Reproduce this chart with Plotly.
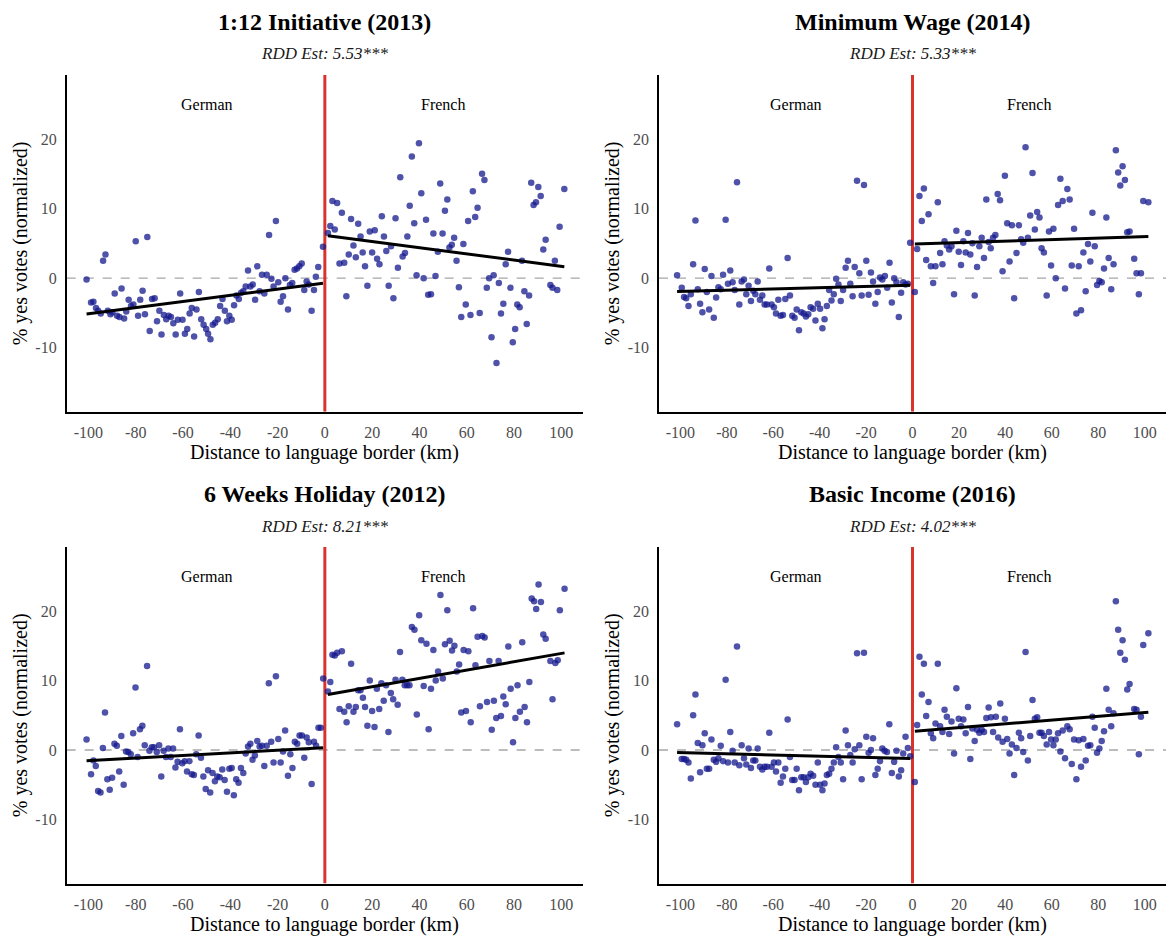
import numpy as np
import plotly.graph_objects as go

# ---------------- data ----------------
TITLES = ["1:12 Initiative (2013)", "Minimum Wage (2014)", "6 Weeks Holiday (2012)", "Basic Income (2016)"]
RDD_EST = ["5.53***", "5.33***", "8.21***", "4.02***"]
SIDE_LABELS = ["German", "French"]
X_TICKS = [-100, -80, -60, -40, -20, 0, 20, 40, 60, 80, 100]
Y_TICKS = [-10, 0, 10, 20]

DE1_X = [-100.8, -98.9, -97.9, -96.8, -95.9, -94.8, -93.8, -92.8, -91.8, -90.7,
         -89.9, -88.9, -87.9, -86.9, -86.0, -84.9, -84.0, -83.0, -82.0, -81.0,
         -80.0, -79.0, -78.1, -77.1, -76.1, -75.1, -74.1, -73.1, -72.0, -71.0,
         -70.0, -69.1, -68.1, -67.1, -66.1, -65.1, -64.1, -63.1, -62.2, -61.2,
         -60.2, -59.2, -58.2, -57.2, -56.3, -55.3, -54.3, -53.3, -52.3, -51.3,
         -50.2, -49.4, -48.4, -47.4, -46.4, -45.3, -44.3, -43.3, -42.3, -41.4,
         -40.4, -39.4, -38.4, -37.4, -36.4, -35.4, -34.5, -33.5, -32.5, -31.5,
         -30.5, -29.5, -28.6, -27.6, -26.6, -25.6, -24.6, -23.6, -22.6, -21.7,
         -20.7, -19.7, -18.7, -17.7, -16.7, -15.6, -14.8, -13.8, -12.8, -11.8,
         -10.8, -9.8, -8.7, -7.7, -6.8, -5.6, -4.6, -3.8, -2.8, -0.8]
DE1_Y = [-0.2, -3.5, -3.4, -4.3, -4.7, -5.1, 2.5, 3.4, -4.7, -5.2,
         -4.9, -2.2, -5.4, -5.6, -1.5, -5.8, -4.8, -3.1, -4.0, -3.8,
         5.3, -5.4, -3.1, -1.8, -5.2, 5.9, -7.6, -3.0, -2.9, -6.2,
         -4.7, -8.1, -5.3, -5.9, -5.4, -5.6, -6.5, -8.1, -6.0, -2.2,
         -6.0, -8.0, -7.3, -5.1, -4.3, -8.4, -4.5, -2.0, -5.9, -6.7,
         -7.3, -8.0, -8.8, -6.7, -6.4, -5.9, -4.0, -3.0, -4.7, -6.2,
         -5.4, -6.0, -3.9, -2.5, -3.0, -2.1, -1.9, -1.2, 1.1, -1.2,
         -0.9, -3.1, 1.7, -1.9, 0.5, -2.2, 0.5, 6.2, -0.1, -1.2,
         8.2, -0.6, -3.4, -2.6, 0.0, -4.5, -1.0, -0.7, 1.2, 1.4,
         1.7, 2.1, -1.7, -0.5, -0.9, -4.7, -1.7, 0.2, 1.6, 4.5]
FR1_X = [1.3, 2.3, 3.2, 4.2, 5.2, 6.2, 7.2, 8.2, 9.1, 10.1,
         11.1, 12.1, 13.1, 14.1, 15.1, 16.0, 17.0, 18.0, 19.0, 20.0,
         21.1, 22.1, 23.1, 24.1, 25.0, 26.0, 27.0, 28.0, 29.0, 29.9,
         30.9, 31.9, 32.9, 33.9, 34.9, 35.9, 36.8, 37.8, 38.8, 39.8,
         40.8, 41.8, 42.8, 43.7, 44.9, 45.9, 46.8, 47.8, 48.8, 49.8,
         50.8, 51.8, 52.7, 53.7, 54.7, 55.7, 56.7, 57.7, 58.6, 59.6,
         60.6, 61.6, 62.6, 63.6, 64.6, 65.5, 66.5, 67.5, 68.5, 69.5,
         70.5, 71.4, 72.6, 73.6, 74.5, 75.5, 76.5, 77.5, 78.5, 79.5,
         80.5, 81.4, 82.4, 83.4, 84.4, 85.4, 86.4, 87.3, 88.3, 89.3,
         90.3, 91.3, 92.4, 93.4, 95.4, 96.3, 97.3, 98.3, 99.3, 101.3]
FR1_Y = [6.5, 7.5, 11.1, 7.0, 10.8, 2.1, 9.4, 2.2, -2.6, 3.4,
         8.5, 4.7, 3.0, 7.8, 6.0, 3.7, 1.7, -1.1, 6.7, 3.7,
         6.9, 2.8, 2.0, 8.9, 6.0, 3.9, -1.1, 4.6, -2.9, 8.6,
         1.5, 14.5, 3.1, 3.6, 6.0, 10.4, 17.5, 7.9, 0.4, 19.4,
         12.2, 0.0, 8.4, -2.4, -2.3, 6.4, 0.3, 3.8, 13.6, 6.4,
         9.7, 11.3, 4.4, 4.8, 5.8, 2.5, -1.3, -5.6, 4.9, -3.8,
         8.2, -5.3, 12.5, 8.8, 10.1, -5.0, 15.0, 14.1, -1.4, 0.0,
         -8.5, 0.4, -12.2, -0.7, -5.1, -3.7, 2.0, 3.8, -1.4, -9.2,
         -7.3, -3.8, -4.2, 2.5, -1.9, -6.6, -2.5, 13.7, 10.5, 10.9,
         13.1, 11.8, 4.1, 5.5, -1.0, -1.4, 2.5, -1.7, 7.4, 12.8]

DE2_X = [-101.4, -99.4, -98.4, -97.5, -96.5, -95.5, -94.5, -93.5, -92.5, -91.5,
         -90.5, -89.5, -88.6, -87.6, -86.6, -85.6, -84.6, -83.6, -82.6, -81.6,
         -80.5, -79.5, -78.5, -77.5, -76.6, -75.6, -74.6, -73.6, -72.6, -71.6,
         -70.6, -69.6, -68.6, -67.7, -66.7, -65.7, -64.7, -63.7, -62.7, -61.7,
         -60.7, -59.7, -58.8, -57.8, -56.8, -55.8, -54.8, -53.8, -52.8, -51.8,
         -50.8, -49.9, -48.9, -47.9, -46.9, -45.9, -44.9, -43.9, -42.8, -41.8,
         -40.8, -39.8, -38.8, -37.9, -36.9, -35.9, -34.9, -33.9, -32.9, -31.9,
         -30.9, -29.9, -28.8, -27.8, -26.8, -25.8, -24.9, -23.9, -22.9, -21.9,
         -20.9, -19.9, -18.9, -17.9, -17.0, -16.0, -15.0, -14.0, -13.0, -11.9,
         -10.9, -9.9, -8.9, -7.9, -6.9, -5.9, -4.9, -4.0, -3.0, -2.0,
         -1.0]
DE2_Y = [0.4, -1.4, -2.7, -2.9, -4.0, -2.3, 2.0, 8.3, -1.6, -3.7,
         -4.9, 1.3, -2.0, -4.5, 0.3, -5.7, -2.8, -1.3, -1.6, 0.5,
         8.4, -0.8, 1.1, -0.6, -1.7, 13.8, -3.8, -0.5, -0.2, -2.3,
         -1.1, -3.3, -1.8, -2.3, -0.5, -3.1, -2.5, -3.8, -3.8, 1.4,
         -3.8, -4.2, -5.1, -3.1, -5.4, -5.3, -3.0, 2.9, -2.5, -5.4,
         -5.7, -4.5, -7.5, -4.9, -5.1, -5.5, -5.2, -4.2, -4.4, -6.1,
         -3.7, -4.4, -7.2, -5.9, -4.0, -1.7, -3.2, -2.3, -0.1, -0.9,
         -3.3, -1.7, 1.5, 2.5, -0.8, -2.6, 1.6, 14.0, 0.7, -2.5,
         13.4, 2.5, -2.4, 0.8, -0.5, -3.7, -2.0, 0.1, -0.2, 0.3,
         -1.4, 2.2, -3.5, 0.0, -0.6, -5.6, -2.1, -0.6, -0.9, -0.8,
         5.1]
FR2_X = [1.0, 2.0, 3.0, 4.0, 4.9, 5.9, 6.9, 7.9, 8.9, 9.9,
         10.9, 11.9, 12.9, 13.8, 14.8, 15.8, 16.8, 17.9, 18.9, 19.9,
         20.9, 21.9, 22.9, 23.9, 24.9, 25.8, 26.8, 27.8, 28.8, 29.8,
         30.8, 31.8, 32.8, 33.7, 34.7, 35.7, 36.7, 37.7, 38.8, 39.8,
         40.8, 41.8, 42.8, 43.8, 44.8, 45.8, 46.8, 47.7, 48.7, 49.7,
         50.7, 51.7, 52.7, 53.7, 54.7, 55.6, 56.6, 57.8, 58.8, 59.7,
         60.7, 61.7, 62.7, 63.7, 64.7, 65.7, 66.7, 67.7, 68.6, 69.6,
         70.6, 71.6, 72.6, 73.6, 74.6, 75.6, 76.6, 77.5, 78.5, 79.5,
         80.5, 81.5, 82.5, 83.5, 84.5, 85.6, 86.6, 87.6, 88.6, 89.5,
         90.5, 91.5, 92.5, 93.5, 95.5, 96.5, 97.5, 98.4, 99.4, 101.6]
FR2_Y = [-2.0, 4.2, 11.8, 8.2, 12.9, 2.6, 9.2, 1.7, -0.7, 1.7,
         10.9, 3.6, 2.0, 5.3, 4.7, 4.1, 4.6, -2.3, 6.8, 3.8,
         1.9, 5.3, 3.7, 6.5, 3.4, 5.0, -2.5, 1.6, 4.6, 5.8,
         2.9, 11.3, 5.2, 4.3, 5.8, 6.2, 12.1, 11.2, 1.0, 14.7,
         7.9, 2.4, 7.6, -2.9, 3.6, 7.6, 5.6, 5.1, 18.8, 5.8,
         9.0, 15.1, 7.0, 9.5, 8.7, 4.3, 3.7, -2.5, 6.7, 1.8,
         7.1, 0.0, 10.5, 14.3, 11.1, -1.5, 12.8, 11.3, 1.8, 7.1,
         -5.1, 1.7, -4.6, 3.7, -1.9, 4.9, 2.4, 9.4, 4.6, -1.0,
         -0.4, -0.6, 1.4, 8.7, 2.9, -1.6, 2.0, 18.4, 15.2, 13.3,
         16.1, 14.1, 6.6, 6.7, 2.8, 0.7, -2.3, 0.7, 11.1, 10.9]

DE3_X = [-100.8, -98.9, -97.9, -96.9, -95.9, -94.9, -93.9, -93.0, -92.0, -91.0,
         -90.0, -89.0, -88.0, -87.0, -86.1, -85.1, -84.1, -83.1, -82.1, -81.1,
         -80.1, -79.2, -78.2, -77.2, -76.2, -75.2, -74.2, -73.2, -72.3, -71.1,
         -70.1, -69.2, -68.2, -67.2, -66.2, -65.2, -64.2, -63.2, -62.3, -61.3,
         -60.3, -59.3, -58.3, -57.3, -56.3, -55.4, -54.4, -53.4, -52.4, -51.4,
         -50.4, -49.4, -48.5, -47.5, -46.5, -45.5, -44.5, -43.4, -42.4, -41.4,
         -40.4, -39.4, -38.5, -37.5, -36.5, -35.5, -34.5, -33.5, -32.5, -31.5,
         -30.6, -29.6, -28.6, -27.6, -26.6, -25.6, -24.6, -23.7, -22.7, -21.7,
         -20.7, -19.7, -18.7, -17.7, -16.8, -15.6, -14.6, -13.7, -12.7, -11.7,
         -10.7, -9.7, -8.7, -7.7, -6.8, -5.6, -4.6, -3.7, -2.7, -1.7,
         -0.7]
DE3_Y = [1.5, -3.5, -1.5, -2.3, -5.9, -6.1, 0.3, 5.4, -4.2, -5.7,
         -4.0, 0.9, 0.6, -3.1, 2.0, -5.0, -0.2, -0.3, -0.6, 2.4,
         9.0, -1.0, 3.0, 3.5, 0.7, 12.1, -0.1, 0.4, 0.4, -0.3,
         0.7, -3.8, -0.1, -1.0, 0.2, -1.0, 0.2, -2.5, -1.7, 3.0,
         -1.9, -1.6, -3.1, -1.6, -3.5, -3.6, -0.6, 2.1, -1.1, -3.8,
         -5.6, -2.9, -6.1, -3.3, -4.5, -3.8, -3.9, -2.8, -4.3, -6.0,
         -2.7, -2.6, -6.5, -4.2, -4.7, -2.6, -3.3, -0.5, 0.5, 0.9,
         -1.4, -0.8, 1.3, 0.5, 0.6, -2.3, 0.6, 9.6, 1.2, -1.8,
         10.6, 1.6, -1.8, -0.2, 2.8, -3.7, -0.6, -2.6, 1.2, 0.9,
         2.1, 2.1, -1.1, 1.8, 1.1, -4.9, 1.2, 0.6, 3.2, 3.2,
         10.3]
FR3_X = [1.3, 2.3, 3.2, 4.2, 5.2, 6.2, 7.2, 8.2, 9.2, 10.1,
         11.1, 12.1, 13.1, 14.1, 15.1, 16.1, 17.0, 18.0, 19.0, 20.0,
         21.0, 22.0, 23.0, 23.9, 24.9, 25.9, 26.9, 27.9, 28.9, 29.9,
         30.8, 31.8, 32.8, 33.8, 34.8, 35.8, 36.8, 37.9, 38.9, 39.9,
         40.8, 41.8, 43.0, 43.9, 44.9, 45.9, 46.9, 47.9, 48.9, 49.9,
         50.8, 51.8, 52.8, 53.8, 54.8, 55.8, 56.8, 57.7, 58.7, 59.7,
         60.7, 61.7, 62.7, 63.7, 64.6, 65.6, 66.6, 67.6, 68.6, 69.6,
         70.6, 71.5, 72.5, 73.5, 74.5, 75.5, 76.5, 77.6, 78.6, 79.6,
         80.6, 81.5, 82.5, 83.5, 84.5, 85.5, 86.5, 87.5, 88.5, 89.4,
         90.4, 91.4, 92.4, 93.4, 95.4, 96.3, 97.5, 98.5, 99.4, 101.4]
FR3_Y = [8.4, 9.8, 13.7, 13.6, 14.0, 5.9, 14.2, 5.5, 4.0, 6.3,
         12.4, 5.5, 6.2, 8.6, 8.6, 7.5, 6.2, 3.5, 10.0, 5.6,
         3.3, 8.8, 5.9, 9.6, 7.1, 9.3, 2.6, 8.2, 7.3, 10.1,
         6.5, 14.1, 10.1, 9.3, 9.3, 9.3, 17.7, 17.3, 5.1, 19.4,
         15.8, 9.2, 15.3, 3.0, 8.8, 14.4, 10.0, 11.3, 22.3, 10.3,
         15.2, 20.1, 15.7, 14.3, 15.0, 11.3, 12.3, 5.4, 14.4, 5.6,
         14.2, 4.0, 20.4, 12.2, 16.3, 6.3, 16.4, 16.2, 6.9, 12.8,
         2.9, 7.1, 4.6, 12.8, 4.9, 7.7, 6.6, 14.9, 8.8, 1.1,
         4.6, 9.3, 5.5, 15.5, 6.2, 4.0, 9.8, 21.8, 21.4, 20.3,
         23.8, 21.3, 16.6, 16.0, 12.8, 7.3, 12.5, 12.9, 20.1, 23.2]

DE4_X = [-101.4, -99.4, -98.4, -97.5, -96.5, -95.5, -94.5, -93.5, -92.5, -91.5,
         -90.5, -89.5, -88.6, -87.6, -86.6, -85.6, -84.6, -83.6, -82.6, -81.6,
         -80.5, -79.5, -78.5, -77.5, -76.6, -75.6, -74.6, -73.6, -72.6, -71.6,
         -70.6, -69.6, -68.6, -67.7, -66.7, -65.7, -64.7, -63.7, -62.7, -61.7,
         -60.7, -59.7, -58.8, -57.8, -56.8, -55.8, -54.8, -53.8, -52.8, -51.8,
         -50.8, -49.9, -48.9, -47.9, -46.9, -45.9, -44.9, -43.9, -42.8, -41.8,
         -40.8, -39.8, -38.8, -37.9, -36.9, -35.9, -34.9, -33.9, -32.9, -31.9,
         -30.9, -29.9, -28.8, -27.8, -26.8, -25.8, -24.9, -23.9, -22.9, -21.9,
         -20.9, -19.9, -18.9, -17.9, -17.0, -16.0, -15.0, -14.0, -13.0, -12.0,
         -11.0, -10.0, -8.9, -7.9, -6.9, -5.9, -4.9, -4.0, -3.0, -2.0,
         -1.0]
DE4_Y = [3.7, -1.3, -1.3, -1.4, -1.8, -4.1, 5.0, 8.0, 1.0, -3.2,
         0.7, 2.4, -2.7, -2.7, 1.5, -1.4, -1.7, -1.2, 0.6, -1.6,
         10.1, -1.8, 2.6, -0.1, -1.8, 14.9, -2.2, 0.7, -1.2, -2.1,
         0.2, -2.6, -1.5, -1.5, 0.2, -2.4, -2.8, -2.4, -2.4, 2.5,
         -2.4, -1.8, -3.1, -1.8, -4.7, -3.8, -2.7, 4.4, -1.0, -4.3,
         -4.3, -2.7, -5.8, -3.9, -3.9, -4.6, -3.9, -3.4, -3.7, -5.0,
         -1.8, -5.0, -5.8, -4.8, -3.6, -3.4, -2.7, -1.8, 0.4, -1.0,
         -1.8, -4.2, 2.8, 0.7, -0.7, -1.8, 0.1, 13.9, 0.7, -4.2,
         14.0, 1.9, -0.4, 0.0, 1.7, -3.6, -2.7, -1.6, 0.2, -0.1,
         -0.3, 3.7, -3.3, -1.7, -0.1, -3.8, -2.9, -0.5, 1.9, 0.3,
         -0.9]
FR4_X = [1.0, 2.0, 3.0, 4.0, 4.9, 5.9, 6.9, 7.9, 8.9, 9.9,
         10.9, 11.9, 12.9, 13.8, 14.8, 15.8, 16.8, 17.9, 18.9, 19.9,
         20.9, 21.9, 22.9, 23.9, 24.9, 25.8, 26.8, 27.8, 28.8, 29.8,
         30.8, 31.8, 32.8, 33.8, 34.7, 35.9, 36.9, 37.8, 38.8, 39.8,
         40.8, 41.8, 42.8, 43.8, 44.8, 45.8, 46.8, 47.7, 48.7, 49.7,
         50.7, 51.7, 52.7, 53.7, 54.7, 55.6, 56.6, 57.8, 58.8, 59.7,
         60.7, 61.7, 62.7, 63.7, 64.7, 65.7, 66.7, 67.7, 68.6, 69.6,
         70.6, 71.6, 72.6, 73.6, 74.6, 75.6, 76.6, 77.5, 78.5, 79.5,
         80.5, 81.5, 82.5, 83.5, 84.5, 85.6, 86.6, 87.6, 88.6, 89.5,
         90.5, 91.5, 92.5, 93.5, 95.5, 96.5, 97.5, 98.4, 99.4, 101.6]
FR4_Y = [-4.6, 3.6, 13.4, 8.0, 12.4, 4.9, 6.9, 2.4, 1.7, 3.8,
         12.4, 3.4, 2.6, 5.8, 4.8, 2.3, 4.1, -0.5, 8.9, 4.5,
         3.4, 4.4, 2.4, 6.2, -1.3, 3.1, 1.3, 2.9, 2.5, 2.9,
         2.6, 4.6, 6.1, 4.7, 2.6, 4.8, 1.8, 6.7, 1.2, 4.5,
         1.6, -0.5, 0.8, -3.6, 0.3, 2.5, 1.7, -0.3, 14.1, -1.5,
         2.0, 7.2, 4.5, 4.7, 2.5, 2.5, 2.0, 0.8, 2.6, 1.5,
         0.7, 1.5, 2.4, -0.2, 2.8, -1.2, 3.4, 3.0, -2.0, 1.5,
         -4.2, 1.4, -2.4, 1.6, -1.5, 0.6, 0.7, 4.8, 3.2, -0.4,
         0.2, 1.3, 2.7, 8.8, 5.8, 3.4, 5.3, 21.4, 17.3, 14.0,
         15.8, 13.0, 8.7, 9.5, 5.9, 5.8, -0.6, 4.8, 15.1, 16.8]

GERMAN_X = [DE1_X, DE2_X, DE3_X, DE4_X]
GERMAN_Y = [DE1_Y, DE2_Y, DE3_Y, DE4_Y]
FRENCH_X = [FR1_X, FR2_X, FR3_X, FR4_X]
FRENCH_Y = [FR1_Y, FR2_Y, FR3_Y, FR4_Y]

# ---------------- styling ----------------
W, H = 1169, 936
FONT = "Liberation Serif"
POINT_COLOR = "rgba(20,24,140,0.75)"
RED = "#D9342B"
X_RANGE = [-109.2, 109.2]
Y_RANGE = [-19.2, 29.2]

X_DOM = [(66.7 / W, 583.0 / W), (659.0 / W, 1166.0 / W)]
Y_DOM = [(1 - 411.7 / H, 1 - 75.0 / H), (1 - 883.5 / H, 1 - 547.0 / H)]
TITLE_Y = [22, 494]
SUB_Y = [53, 526]
XTITLE_Y = [452, 924]
YTITLE_X = [20, 612]

fig = go.Figure()
layout = dict(width=W, height=H, margin=dict(l=0, r=0, t=0, b=0),
              plot_bgcolor="white", paper_bgcolor="white", showlegend=False,
              font=dict(family=FONT, color="black"))
annotations = []
shapes = []

for i in range(4):
    row, col = divmod(i, 2)
    n = "" if i == 0 else str(i + 1)
    xa, ya = "x" + n, "y" + n
    common = dict(showgrid=False, zeroline=False, showline=True, linecolor="black",
                  linewidth=1.6, mirror=False, ticks="outside", ticklen=5,
                  tickcolor="rgba(0,0,0,0)",
                  tickfont=dict(family=FONT, size=16, color="#4D4D4D"))
    layout["xaxis" + n] = dict(common, domain=list(X_DOM[col]), anchor=ya, range=X_RANGE,
                               tickmode="array", tickvals=X_TICKS,
                               ticktext=[str(v) for v in X_TICKS])
    layout["yaxis" + n] = dict(common, domain=list(Y_DOM[row]), anchor=xa, range=Y_RANGE,
                               tickmode="array", tickvals=Y_TICKS,
                               ticktext=[str(v) for v in Y_TICKS])

    # reference lines
    shapes.append(dict(type="line", xref=xa, yref=ya, x0=X_RANGE[0], x1=X_RANGE[1], y0=0, y1=0,
                       line=dict(color="#A6A6A6", width=1.3, dash="dash"), layer="below"))
    shapes.append(dict(type="line", xref=xa, yref=ya, x0=0, x1=0, y0=Y_RANGE[0], y1=Y_RANGE[1],
                       line=dict(color=RED, width=3), layer="below"))

    for xs, ys in ((GERMAN_X[i], GERMAN_Y[i]), (FRENCH_X[i], FRENCH_Y[i])):
        fig.add_trace(go.Scatter(x=xs, y=ys, mode="markers", xaxis=xa, yaxis=ya,
                                 marker=dict(size=6.5, color=POINT_COLOR, line=dict(width=0)),
                                 hoverinfo="skip"))
    for xs, ys in ((GERMAN_X[i], GERMAN_Y[i]), (FRENCH_X[i], FRENCH_Y[i])):
        slope, icpt = np.polyfit(np.array(xs), np.array(ys), 1)
        lx = np.array([min(xs), max(xs)])
        fig.add_trace(go.Scatter(x=lx, y=slope * lx + icpt, mode="lines", xaxis=xa, yaxis=ya,
                                 line=dict(color="black", width=3), hoverinfo="skip"))

    xmid = (X_DOM[col][0] + X_DOM[col][1]) / 2
    annotations.append(dict(text="<b>" + TITLES[i] + "</b>", xref="paper", yref="paper",
                            x=xmid, y=1 - TITLE_Y[row] / H, xanchor="center", yanchor="middle",
                            showarrow=False, font=dict(family=FONT, size=24, color="black")))
    annotations.append(dict(text="<i>RDD Est: " + RDD_EST[i] + "</i>", xref="paper", yref="paper",
                            x=xmid, y=1 - SUB_Y[row] / H, xanchor="center", yanchor="middle",
                            showarrow=False, font=dict(family=FONT, size=17, color="#1A1A1A")))
    for lab, xv in zip(SIDE_LABELS, (-50, 50)):
        annotations.append(dict(text=lab, xref=xa, yref=ya, x=xv, y=25, showarrow=False,
                                xanchor="center", yanchor="middle",
                                font=dict(family=FONT, size=16, color="black")))
    annotations.append(dict(text="Distance to language border (km)", xref="paper", yref="paper",
                            x=xmid, y=1 - XTITLE_Y[row] / H, xanchor="center", yanchor="middle",
                            showarrow=False, font=dict(family=FONT, size=20, color="black")))
    ymid = (Y_DOM[row][0] + Y_DOM[row][1]) / 2
    annotations.append(dict(text="% yes votes (normalized)", xref="paper", yref="paper",
                            x=YTITLE_X[col] / W, y=ymid, xanchor="center", yanchor="middle",
                            textangle=-90, showarrow=False,
                            font=dict(family=FONT, size=20, color="black")))

layout["annotations"] = annotations
layout["shapes"] = shapes
fig.update_layout(**layout)
fig.write_html("out.html")
